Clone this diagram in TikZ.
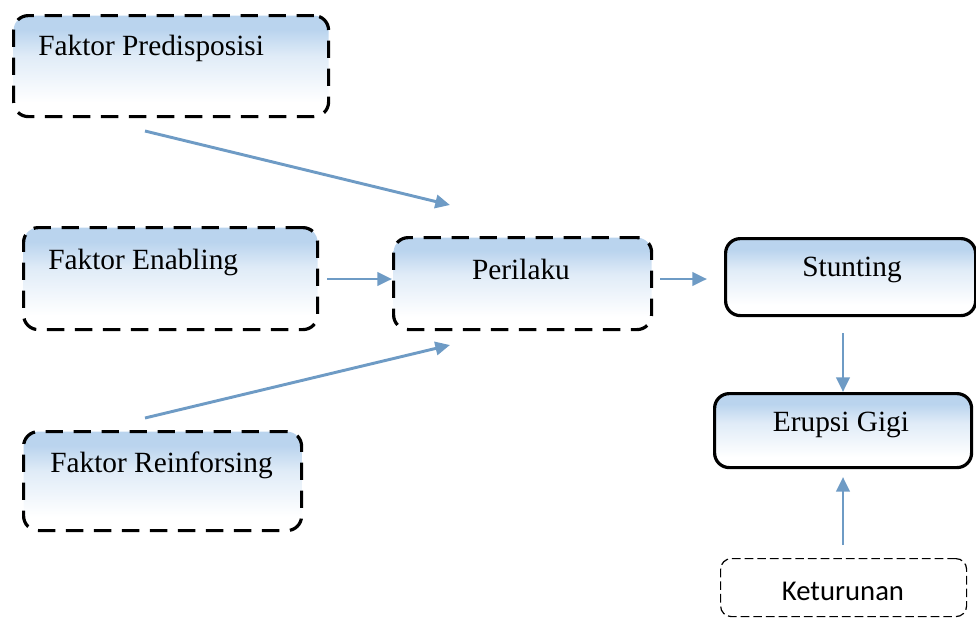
\documentclass[tikz,border=0pt]{standalone}
\usepackage{fontspec}
\setmainfont{Liberation Serif}
\newfontfamily\calib{Carlito}
\usetikzlibrary{arrows.meta}
\definecolor{boxblue}{RGB}{186,212,238}
\definecolor{arrowblue}{RGB}{110,155,197}
\pgfdeclareverticalshading{boxshade}{100bp}{%
  color(0bp)=(white); color(32bp)=(white); color(55bp)=(boxblue!45);
  color(68bp)=(boxblue); color(100bp)=(boxblue)}
\tikzset{
  fbox/.style={rectangle, rounded corners=11pt, anchor=north west, inner sep=0pt,
    shading=boxshade, draw=black, line width=2.4pt},
  dbox/.style={fbox, dash pattern=on 13pt off 8pt},
  sbox/.style={fbox},
  kbox/.style={rectangle, rounded corners=8pt, anchor=north west, inner sep=0pt,
    draw=black, line width=0.9pt, dash pattern=on 6.5pt off 3pt},
  lbl/.style={inner sep=0pt, font=\fontsize{22}{26}\selectfont},
  conn/.style={draw=arrowblue, line width=2.2pt, -{Triangle[length=11pt,width=10pt]}}
}
\begin{document}
\begin{tikzpicture}[x=0.75pt,y=-0.75pt]
\useasboundingbox (0,0) rectangle (976,619);
% boxes
\node[dbox, minimum width=315*0.75pt, minimum height=101*0.75pt] (pred) at (12,14) {};
\node[dbox, minimum width=294*0.75pt, minimum height=102*0.75pt] (enab) at (22,226) {};
\node[dbox, minimum width=278*0.75pt, minimum height=99*0.75pt] (rein) at (22,430) {};
\node[dbox, minimum width=258*0.75pt, minimum height=92*0.75pt] (peri) at (392,236) {};
\node[sbox, minimum width=250*0.75pt, minimum height=77*0.75pt] (stun) at (724,237) {};
\node[sbox, minimum width=257*0.75pt, minimum height=74*0.75pt] (erup) at (713,392) {};
\node[kbox, minimum width=246*0.75pt, minimum height=58*0.75pt] (ketu) at (720,558) {};
% labels
\node[lbl, anchor=west] (tpred) at (38,48) {Faktor Predisposisi};
\node[lbl, anchor=west] (tenab) at (48,262) {Faktor Enabling};
\node[lbl, anchor=west] (trein) at (50,465) {Faktor Reinforsing};
\node[lbl] (tperi) at (521,269) {Perilaku};
\node[lbl] (tstun) at (852,270) {Stunting};
\node[lbl] (terup) at (841,425) {Erupsi Gigi};
\node[lbl, font=\calib\fontsize{21.5}{26}\selectfont] (tketu) at (843,591) {Keturunan};
% connector end points
\coordinate (a1) at (145,131); \coordinate (b1) at (450,205);
\coordinate (a2) at (327,279);
\coordinate (a3) at (145,418); \coordinate (b3) at (450,345);
\coordinate (a4) at (660,279); \coordinate (b4) at (707,279);
\coordinate (a5) at (843,333);
\coordinate (a6) at (843,545); \coordinate (b6) at (843,477);
\draw[conn] (a1) -- (b1);
\draw[conn] (a2) -- (peri.west |- a2);
\draw[conn] (a3) -- (b3);
\draw[conn] (a4) -- (b4);
\draw[conn] (a5) -- (erup.north -| a5);
\draw[conn] (a6) -- (b6);
\end{tikzpicture}
\end{document}
